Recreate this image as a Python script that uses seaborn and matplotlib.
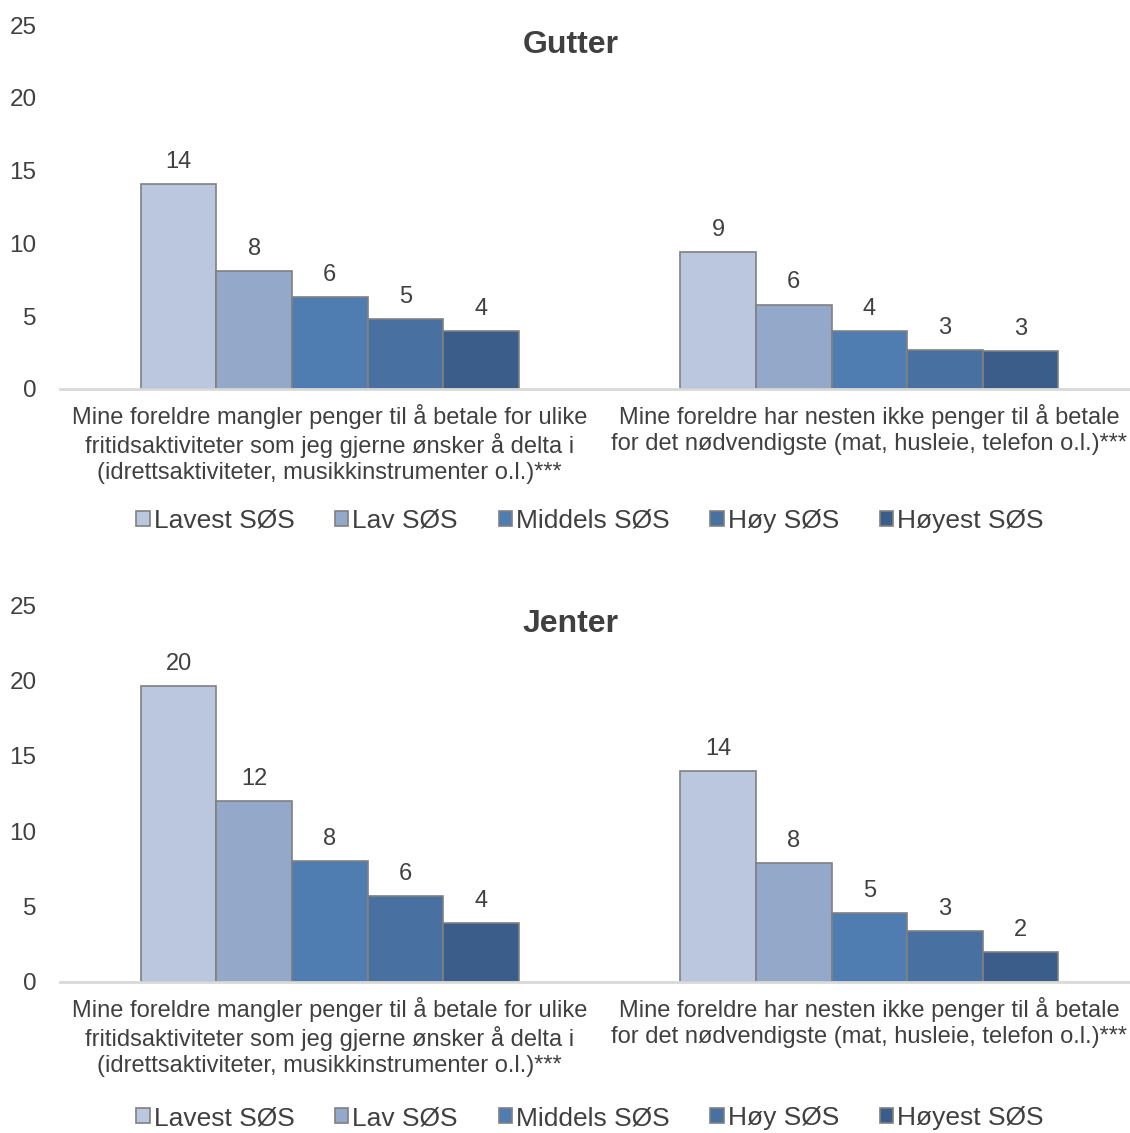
import numpy as np
import pandas as pd
import matplotlib
matplotlib.use("Agg")
import matplotlib.pyplot as plt
import seaborn as sns

# Kategorier (x-akse) og SØS-grupper (hue)
kategorier = [
    "Mine foreldre mangler penger til å betale for ulike\n"
    "fritidsaktiviteter som jeg gjerne ønsker å delta i\n"
    "(idrettsaktiviteter, musikkinstrumenter o.l.)***",
    "Mine foreldre har nesten ikke penger til å betale\n"
    "for det nødvendigste (mat, husleie, telefon o.l.)***",
]
sos_grupper = ["Lavest SØS", "Lav SØS", "Middels SØS", "Høy SØS", "Høyest SØS"]

# Prosentverdier lest av figuren
gutter_fritid = [14.1, 8.1, 6.3, 4.8, 4.0]
gutter_nodvendig = [9.4, 5.8, 4.0, 2.7, 2.6]
jenter_fritid = [19.6, 12.0, 8.0, 5.7, 3.9]
jenter_nodvendig = [14.0, 7.9, 4.6, 3.4, 2.0]

farger = ["#BBC7DF", "#94A8C9", "#4F7DB2", "#4870A1", "#3B5D8A"]
tekstfarge = "#404040"


def lag_tabell(verdier_fritid, verdier_nodvendig):
    """Bygger en lang tabell for seaborn."""
    rader = []
    for kat, verdier in zip(kategorier, [verdier_fritid, verdier_nodvendig]):
        for gruppe, v in zip(sos_grupper, verdier):
            rader.append({"kategori": kat, "SØS": gruppe, "andel": v})
    return pd.DataFrame(rader)


def tegn_panel(fig, ax, df, tittel, tittel_y, legend_y):
    sns.barplot(data=df, x="kategori", y="andel", hue="SØS",
                order=kategorier, hue_order=sos_grupper, palette=farger,
                saturation=1, width=0.7, gap=0, errorbar=None,
                edgecolor="#808080", linewidth=1.2, ax=ax)
    for container in ax.containers:
        ax.bar_label(container, fmt="%.0f", padding=8, fontsize=17,
                     color=tekstfarge)
    ax.set_ylim(0, 25)
    ax.set_yticks(np.arange(0, 26, 5))
    ax.set_xlim(-0.5, 1.5)
    ax.set_xlabel("")
    ax.set_ylabel("")
    sns.despine(ax=ax, left=True)
    ax.spines["bottom"].set_color("#D9D9D9")
    ax.spines["bottom"].set_linewidth(2)
    ax.tick_params(axis="y", length=0, pad=17, labelsize=17.5,
                   labelcolor=tekstfarge)
    ax.tick_params(axis="x", length=0, pad=11, labelsize=17,
                   labelcolor=tekstfarge)
    for lbl in ax.get_xticklabels():
        lbl.set_linespacing(1.2)

    handles, labels = ax.get_legend_handles_labels()
    ax.get_legend().remove()
    fig.legend(handles, labels, loc="center", bbox_to_anchor=(0.522, legend_y),
               ncol=5, frameon=False, fontsize=19, handlelength=0.5,
               handleheight=0.5, handletextpad=0.15, columnspacing=1.55,
               labelcolor=tekstfarge)
    fig.text(0.505, tittel_y, tittel, ha="center", va="center", fontsize=23,
             fontweight="bold", color=tekstfarge)


sns.set_theme(style="white")
plt.rcParams["font.family"] = ["Liberation Sans", "DejaVu Sans"]

fig = plt.figure(figsize=(11.3, 11.33), dpi=100)
ax_gutter = fig.add_axes([0.0531, 0.6567, 0.9549, 0.3212])
ax_jenter = fig.add_axes([0.0531, 0.1333, 0.9549, 0.3327])

tegn_panel(fig, ax_gutter, lag_tabell(gutter_fritid, gutter_nodvendig),
           "Gutter", 0.960, 1 - 521 / 1133)
tegn_panel(fig, ax_jenter, lag_tabell(jenter_fritid, jenter_nodvendig),
           "Jenter", 0.449, 1 - 1118 / 1133)

fig.savefig("out.png", dpi=100, facecolor="white")
